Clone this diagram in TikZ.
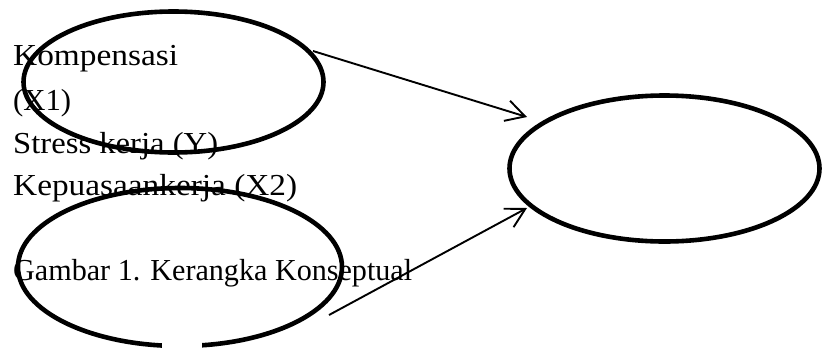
\documentclass[tikz,border=0pt]{standalone}
\usepackage{fontspec}
\setmainfont{Liberation Serif}
\usetikzlibrary{shapes.geometric,arrows.meta}
% set a line in the label font and stretch it horizontally to a given width (in pt)
\newcommand\fitline[2]{%
  \setbox0\hbox{#2}%
  \pgfmathsetmacro\fitfac{#1/\the\wd0*1pt}%
  \scalebox{\fitfac}[1]{\box0}}
\tikzset{
  oval/.style={draw, line width=4.6pt, ellipse, inner sep=0pt},
  link/.style={line width=1.9pt, -{Straight Barb[length=19pt,width=21pt,line width=1.9pt]}},
  lbl/.style={anchor=base west, inner sep=0pt, font=\fontsize{30.5}{36}\selectfont}
}
\begin{document}
\begin{tikzpicture}[x=1pt, y=-1pt]
  \useasboundingbox (0,0) rectangle (825,349);
  \clip (0,0) rectangle (825,349);
  % variable ovals
  \node[oval, minimum width=300pt, minimum height=141pt] (x1) at (173.5,82) {};
  \node[oval, minimum width=324pt, minimum height=158pt] (x2) at (180,267) {};
  \node[oval, minimum width=310pt, minimum height=146pt] (y) at (664.5,168.5) {};
  % break in the lower oval
  \fill[white] (162,340) rectangle (202,352);
  % labels
  \node[lbl] (t1) at (13,65) {\fitline{165}{Kompensasi}};
  \node[lbl] (t2) at (13,110) {\fitline{58}{(X1)}};
  \node[lbl] (t3) at (13,153) {\fitline{205}{Stress kerja (Y)}};
  \node[lbl] (t4) at (13,195) {\fitline{284}{Kepuasaankerja (X2)}};
  \node[lbl] (t5) at (13,280) {\fitline{399}{Gambar 1. Kerangka Konseptual}};
  % paths
  \coordinate (a1) at (313,51);
  \coordinate (b1) at (527,117);
  \coordinate (a2) at (329,315);
  \coordinate (b2) at (527,208);
  \draw[link] (a1) -- (b1);
  \draw[link] (a2) -- (b2);
\end{tikzpicture}
\end{document}
